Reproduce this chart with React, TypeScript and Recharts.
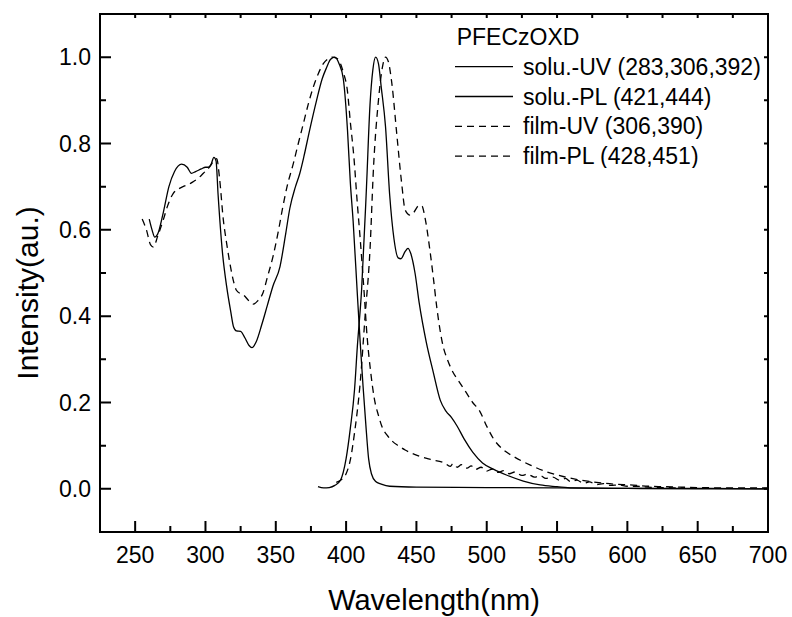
import { LineChart, Line, XAxis, YAxis, Legend, ReferenceArea } from 'recharts';

document.body.style.margin = '0';
document.body.style.overflow = 'hidden';

// wavelengths (nm) and normalised intensities
const solUvX = [260, 262, 264, 266, 270, 274, 278, 283, 287, 290, 293, 297, 300, 302, 304, 306, 307.5, 309, 312, 315, 318, 320, 322, 325, 328, 331, 333, 336, 340, 344, 348, 353, 357, 360, 364, 367, 370, 374, 379, 383, 386, 389, 392, 395, 398, 401, 403, 405, 408, 410, 412, 414, 416, 418, 421, 425, 431, 450, 500, 550, 600, 650, 700];
const solUvY = [0.625, 0.6, 0.583, 0.59, 0.64, 0.7, 0.735, 0.752, 0.745, 0.731, 0.735, 0.741, 0.745, 0.745, 0.752, 0.768, 0.76, 0.68, 0.55, 0.47, 0.41, 0.375, 0.366, 0.365, 0.35, 0.332, 0.327, 0.34, 0.38, 0.425, 0.47, 0.515, 0.59, 0.65, 0.7, 0.73, 0.77, 0.83, 0.9, 0.95, 0.975, 0.995, 1.0, 0.985, 0.95, 0.83, 0.71, 0.62, 0.45, 0.34, 0.24, 0.15, 0.07, 0.035, 0.017, 0.011, 0.006, 0.004, 0.003, 0.002, 0.001, 0.001, 0.0];

const solPlX = [380, 384, 388, 392, 396, 400, 403, 406, 408, 411, 414.5, 417, 419, 421, 423, 425, 428, 431, 434, 437, 439, 442, 444, 446, 449, 452, 457, 462, 467, 471, 475, 479, 484, 490, 497, 505, 514, 526, 538, 550, 561, 600, 650, 700];
const solPlY = [0.005, 0.002, 0.003, 0.008, 0.02, 0.07, 0.14, 0.23, 0.33, 0.46, 0.7, 0.89, 0.97, 1.0, 0.985, 0.93, 0.84, 0.68, 0.58, 0.535, 0.533, 0.55, 0.557, 0.545, 0.5, 0.43, 0.34, 0.27, 0.205, 0.18, 0.165, 0.145, 0.115, 0.085, 0.06, 0.045, 0.032, 0.018, 0.009, 0.005, 0.002, 0.001, 0.0, 0.0];

const filmUvX = [255, 258, 261, 263, 266, 270, 273, 277, 281, 284, 288, 291, 295, 298.5, 303, 306, 308, 310, 312.7, 315, 317.5, 320, 322, 325, 327, 331, 334, 337, 341, 344, 348, 352, 355, 358, 362.5, 366, 369.6, 373, 376.7, 380, 383.8, 387, 390, 393, 396, 398, 401, 403, 405.5, 408, 410, 412.5, 415, 417.5, 420, 423, 426, 429, 433, 437, 442, 450, 460, 470, 474, 476, 479, 482, 486, 489, 492, 496, 500, 504, 508, 512, 516, 520, 525, 529, 534, 538, 542, 547, 552, 556, 560, 564, 569, 573, 578, 583, 588, 594, 600, 607, 614, 625, 640];
const filmUvY = [0.625, 0.6, 0.565, 0.56, 0.585, 0.623, 0.655, 0.684, 0.695, 0.7, 0.705, 0.711, 0.72, 0.731, 0.746, 0.76, 0.765, 0.72, 0.623, 0.57, 0.52, 0.48, 0.46, 0.452, 0.449, 0.435, 0.428, 0.435, 0.455, 0.49, 0.538, 0.6, 0.653, 0.7, 0.754, 0.8, 0.846, 0.89, 0.931, 0.96, 0.985, 0.996, 1.0, 0.998, 0.985, 0.965, 0.92, 0.85, 0.77, 0.66, 0.58, 0.47, 0.35, 0.27, 0.21, 0.17, 0.14, 0.125, 0.11, 0.1, 0.09, 0.078, 0.068, 0.06, 0.052, 0.058, 0.05, 0.056, 0.048, 0.053, 0.045, 0.05, 0.041, 0.046, 0.038, 0.042, 0.035, 0.039, 0.031, 0.034, 0.027, 0.031, 0.024, 0.027, 0.02, 0.024, 0.016, 0.02, 0.013, 0.016, 0.01, 0.012, 0.008, 0.009, 0.006, 0.006, 0.004, 0.003, 0.002];

const filmPlX = [393, 396, 400, 403, 406, 410, 413.5, 417, 419.5, 423, 426, 428, 430, 432.5, 436, 439.5, 442, 445.5, 448, 452, 454, 456, 459.5, 462, 464.5, 469, 472, 476, 480, 485, 490, 495, 500, 505, 512, 519, 531, 542, 555, 567, 578, 590, 602, 615, 626, 650, 675, 700];
const filmPlY = [0.015, 0.02, 0.035, 0.067, 0.13, 0.245, 0.4, 0.555, 0.745, 0.9, 0.98, 1.0, 0.99, 0.94, 0.823, 0.708, 0.646, 0.634, 0.64, 0.657, 0.655, 0.63, 0.555, 0.49, 0.42, 0.33, 0.3, 0.27, 0.25, 0.225, 0.2, 0.18, 0.145, 0.115, 0.09, 0.075, 0.055, 0.04, 0.028, 0.02, 0.015, 0.011, 0.009, 0.006, 0.005, 0.003, 0.002, 0.002];

const xMajorTicks = [250, 300, 350, 400, 450, 500, 550, 600, 650, 700];
const xMinorTicks = [275, 325, 375, 425, 475, 525, 575, 625, 675];
const yMajorTicks = [0, 0.2, 0.4, 0.6, 0.8, 1.0];
const yMinorTicks = [0.1, 0.3, 0.5, 0.7, 0.9];
const legendTitle = 'PFECzOXD';

const X_DOMAIN: [number, number] = [225, 700];
const Y_DOMAIN: [number, number] = [-0.1, 1.1];
const FONT = '"Liberation Sans", Arial, sans-serif';
const DASH = '7 5';

// plot box in px, used to turn tick lengths into data units
const PLOT_W = 668;
const PLOT_H = 518;
const pxX = (px: number) => (px * (X_DOMAIN[1] - X_DOMAIN[0])) / PLOT_W;
const pxY = (px: number) => (px * (Y_DOMAIN[1] - Y_DOMAIN[0])) / PLOT_H;

const toPoints = (xs: number[], ys: number[]) => xs.map((x, i) => ({ x, y: ys[i] }));

const series = [
  { name: 'solu.-UV (283,306,392)', data: toPoints(solUvX, solUvY), dash: undefined },
  { name: 'solu.-PL (421,444)', data: toPoints(solPlX, solPlY), dash: undefined },
  { name: 'film-UV (306,390)', data: toPoints(filmUvX, filmUvY), dash: DASH },
  { name: 'film-PL (428,451)', data: toPoints(filmPlX, filmPlY), dash: DASH },
];

// inward tick marks as short broken polylines (null breaks the path)
type P = { x: number; y: number | null };
const vTicks = (vals: number[], from: number, len: number): P[] =>
  vals.flatMap((v) => [
    { x: v, y: from },
    { x: v, y: from + len },
    { x: v, y: null },
  ]);
const hTicks = (vals: number[], from: number, len: number): P[] =>
  vals.flatMap((v) => [
    { x: from, y: v },
    { x: from + len, y: v },
    { x: from + len, y: null },
  ]);

const tickSets = [
  { id: 'bMajor', data: vTicks(xMajorTicks, Y_DOMAIN[0], pxY(11)) },
  { id: 'bMinor', data: vTicks(xMinorTicks, Y_DOMAIN[0], pxY(6)) },
  { id: 'top', data: vTicks([...xMajorTicks, ...xMinorTicks], Y_DOMAIN[1], -pxY(4)) },
  { id: 'lMajor', data: hTicks(yMajorTicks, X_DOMAIN[0], pxX(11)) },
  { id: 'lMinor', data: hTicks(yMinorTicks, X_DOMAIN[0], pxX(6)) },
  { id: 'right', data: hTicks([...yMajorTicks, ...yMinorTicks], X_DOMAIN[1], -pxX(4)) },
];

const BottomLabel = (props: any) => {
  const { x, y, payload } = props;
  return (
    <text x={x} y={y + 31} textAnchor="middle" fontSize={23} fontFamily={FONT} fill="#000">
      {payload.value}
    </text>
  );
};

const LeftLabel = (props: any) => {
  const { x, y, payload } = props;
  return (
    <text x={x - 9} y={y} dy="0.36em" textAnchor="end" fontSize={23} fontFamily={FONT} fill="#000">
      {Number(payload.value).toFixed(1)}
    </text>
  );
};

const XTitle = (props: any) => {
  const vb = props.viewBox || { x: 100, width: 668 };
  return (
    <text x={vb.x + vb.width / 2} y={610} textAnchor="middle" fontSize={29} fontFamily={FONT} fill="#000">
      Wavelength(nm)
    </text>
  );
};

const YTitle = () => {
  const cx = 37.5;
  const cy = 293;
  return (
    <text x={cx} y={cy} transform={`rotate(-90, ${cx}, ${cy})`} textAnchor="middle" fontSize={30} fontFamily={FONT} fill="#000">
      Intensity(au.)
    </text>
  );
};

const LegendBox = () => (
  <svg width={340} height={150} style={{ display: 'block', fontFamily: FONT }}>
    <text x={6.7} y={27} fontSize={23} fill="#000">
      {legendTitle}
    </text>
    {series.map((s, i) => {
      const ly = 48.7 + i * 29.8;
      return (
        <g key={s.name}>
          <line x1={5} x2={63} y1={ly} y2={ly} stroke="#000" strokeWidth={1.3} strokeDasharray={s.dash} />
          <text x={73} y={ly + 8} fontSize={23} fill="#000">
            {s.name}
          </text>
        </g>
      );
    })}
  </svg>
);

export default function App() {
  return (
    <LineChart width={792} height={617} margin={{ top: 14, right: 24, bottom: 45, left: 0 }}>
      <XAxis
        xAxisId="x"
        type="number"
        dataKey="x"
        domain={X_DOMAIN}
        allowDataOverflow
        ticks={xMajorTicks}
        interval={0}
        tickSize={0}
        tickMargin={0}
        tickLine={false}
        axisLine={false}
        tick={<BottomLabel />}
        height={40}
        label={<XTitle />}
      />
      <YAxis
        yAxisId="y"
        type="number"
        domain={Y_DOMAIN}
        allowDataOverflow
        ticks={yMajorTicks}
        interval={0}
        tickSize={0}
        tickMargin={0}
        tickLine={false}
        axisLine={false}
        tick={<LeftLabel />}
        width={100}
        label={<YTitle />}
      />
      <ReferenceArea
        xAxisId="x"
        yAxisId="y"
        x1={X_DOMAIN[0]}
        x2={X_DOMAIN[1]}
        y1={Y_DOMAIN[0]}
        y2={Y_DOMAIN[1]}
        fill="none"
        fillOpacity={0}
        stroke="#000"
        strokeWidth={2}
        strokeOpacity={1}
        ifOverflow="visible"
      />
      <Legend
        layout="vertical"
        align="center"
        verticalAlign="middle"
        wrapperStyle={{ left: 450, top: 18, width: 340 }}
        content={<LegendBox />}
      />
      {tickSets.map((t) => (
        <Line
          key={t.id}
          xAxisId="x"
          yAxisId="y"
          data={t.data}
          dataKey="y"
          type="linear"
          stroke="#000"
          strokeWidth={2}
          dot={false}
          activeDot={false}
          connectNulls={false}
          legendType="none"
          isAnimationActive={false}
        />
      ))}
      {series.map((s) => (
        <Line
          key={s.name}
          name={s.name}
          xAxisId="x"
          yAxisId="y"
          data={s.data}
          dataKey="y"
          type="monotone"
          stroke="#000"
          strokeWidth={1.3}
          strokeDasharray={s.dash}
          dot={false}
          activeDot={false}
          isAnimationActive={false}
        />
      ))}
    </LineChart>
  );
}
